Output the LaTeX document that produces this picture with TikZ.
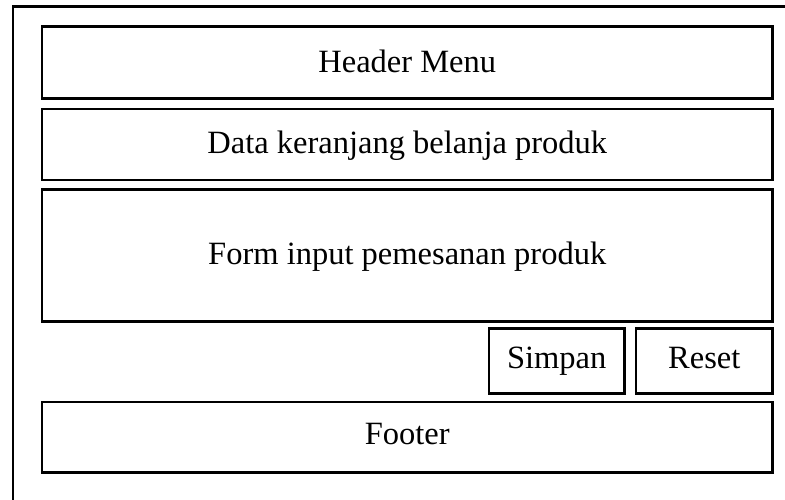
\documentclass[tikz,border=0pt]{standalone}
\usepackage{fontspec}
\setmainfont{Liberation Serif}
\begin{document}
\begin{tikzpicture}[x=1pt,y=-1pt,
  box/.style={draw=black, line width=2.2pt, rectangle, inner sep=0pt, text height=23pt, text depth=4.6pt, font=\fontsize{32.5}{38}\selectfont},
  lowtext/.style={text depth=8pt},
  hightext/.style={text depth=3.4pt},
  frame/.style={draw=black, line width=2.2pt}]
\useasboundingbox (0,0) rectangle (785,499);
\begin{scope}
\clip (0,0) rectangle (785,499);
\coordinate (fb) at (13,510);
\coordinate (fc) at (13,6.5);
\coordinate (fr) at (800,6.5);
\draw[frame] (fb) -- (fc) -- (fr);
\end{scope}
\node[box, hightext, minimum width=730.5pt, minimum height=72pt] (header) at (407.25,62.5) {Header Menu};
\node[box, minimum width=730.5pt, minimum height=71pt] (data) at (407.25,144.5) {Data keranjang belanja produk};
\node[box, minimum width=730.5pt, minimum height=132pt] (form) at (407.25,255.5) {Form input pemesanan produk};
\node[box, lowtext, minimum width=135.5pt, minimum height=65pt] (simpan) at (556.75,361) {Simpan};
\node[box, lowtext, minimum width=136.5pt, minimum height=65pt] (reset) at (704.25,361) {Reset};
\node[box, lowtext, minimum width=730.5pt, minimum height=70.5pt] (footer) at (407.25,437.25) {Footer};
\end{tikzpicture}
\end{document}
